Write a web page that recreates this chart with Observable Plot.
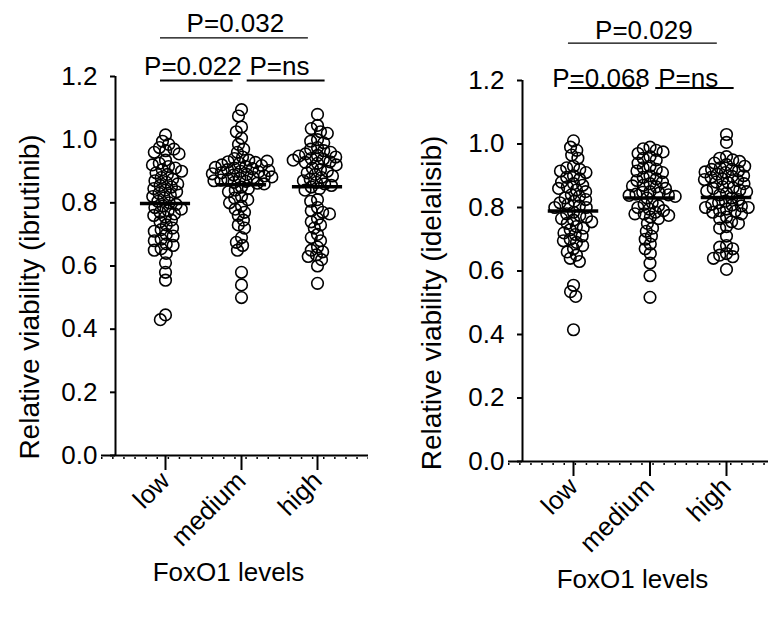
<!DOCTYPE html>
<html><head><meta charset="utf-8">
<script src="https://cdn.jsdelivr.net/npm/d3@7"></script>
<script src="https://cdn.jsdelivr.net/npm/@observablehq/plot@0.6"></script>
<style>
body{margin:0;background:#fff;}
#wrap{display:flex;width:768px;height:628px;overflow:hidden;background:#fff;}
#wrap svg{display:block;flex:none;}
</style></head><body><div id="wrap"></div>
<script>
const categories = ["low", "medium", "high"];
const yTicks = [0, 0.2, 0.4, 0.6, 0.8, 1.0, 1.2];
const xTitle = "FoxO1 levels";

// Relative viability (ibrutinib)
const ibrutinibLow = [1.015, 0.995, 0.985, 0.975, 0.97, 0.965, 0.96, 0.955,
  0.935, 0.925, 0.915, 0.91, 0.905, 0.895, 0.89, 0.92, 0.88, 0.875, 0.90,
  0.87, 0.865, 0.86, 0.855, 0.85, 0.845, 0.84, 0.835, 0.83, 0.825, 0.82, 0.815,
  0.805, 0.80, 0.795, 0.79, 0.785, 0.78, 0.775, 0.77, 0.765, 0.76, 0.755,
  0.745, 0.74, 0.73, 0.72, 0.715, 0.71, 0.70, 0.695,
  0.685, 0.68, 0.67, 0.665, 0.655, 0.65,
  0.64, 0.61, 0.58, 0.555, 0.445, 0.43];
const ibrutinibMedium = [1.095, 1.075, 1.04, 1.025, 1.005, 0.985, 0.97, 0.96, 0.945,
  0.94, 0.935, 0.93, 0.928, 0.925, 0.92, 0.918, 0.915, 0.91, 0.908, 0.905,
  0.90, 0.898, 0.895, 0.89, 0.888, 0.885, 0.88, 0.878, 0.875,
  0.872, 0.87, 0.868, 0.865, 0.862, 0.86, 0.912, 0.902, 0.892, 0.882, 0.932,
  0.85, 0.845, 0.84, 0.835,
  0.82, 0.815, 0.81, 0.80, 0.79, 0.78,
  0.77, 0.76, 0.745, 0.73, 0.72,
  0.69, 0.675, 0.665, 0.65,
  0.58, 0.54, 0.50];
const ibrutinibHigh = [1.08, 1.045, 1.035, 1.025, 1.02, 1.0, 0.995, 0.99,
  0.975, 0.97, 0.965, 0.96, 0.955, 0.95, 0.948, 0.945, 0.94, 0.938, 0.935, 0.93, 0.928, 0.925, 0.92,
  0.91, 0.905, 0.90, 0.895, 0.89, 0.885, 0.88, 0.875, 0.87,
  0.865, 0.86, 0.855, 0.85, 0.845, 0.84,
  0.81, 0.805,
  0.785, 0.775, 0.77, 0.765,
  0.75, 0.74, 0.73, 0.72,
  0.70, 0.69, 0.68,
  0.66, 0.65, 0.645, 0.635, 0.63,
  0.60, 0.62, 0.545];

// Relative viability (idelalisib)
const idelalisibLow = [1.01, 0.99, 0.98, 0.965, 0.955,
  0.93, 0.925, 0.92, 0.915, 0.91,
  0.90, 0.895, 0.89, 0.88, 0.875, 0.87, 0.865, 0.86, 0.855, 0.85,
  0.84, 0.835, 0.83, 0.825, 0.82, 0.815, 0.81, 0.805, 0.80, 0.80,
  0.785, 0.78, 0.775, 0.77, 0.765, 0.76, 0.755, 0.75,
  0.74, 0.735, 0.73, 0.72, 0.715, 0.71, 0.70, 0.695, 0.69,
  0.68, 0.67, 0.66, 0.65, 0.64, 0.63,
  0.555, 0.535, 0.52, 0.415];
const idelalisibMedium = [0.99, 0.985, 0.98, 0.975, 0.97, 0.96,
  0.955, 0.95, 0.94,
  0.93, 0.925, 0.92, 0.915, 0.91,
  0.90, 0.895, 0.89, 0.885, 0.88, 0.875, 0.87, 0.868, 0.865, 0.86,
  0.85, 0.848, 0.845, 0.842, 0.84, 0.838, 0.835, 0.83,
  0.815, 0.81, 0.805, 0.80, 0.795, 0.79, 0.785, 0.78, 0.78, 0.775, 0.77, 0.765,
  0.75, 0.735, 0.725, 0.71,
  0.70, 0.685, 0.67,
  0.655, 0.625, 0.585, 0.517];
const idelalisibHigh = [1.03, 1.005,
  0.96, 0.955, 0.95, 0.945, 0.94, 0.935, 0.93,
  0.925, 0.92, 0.92, 0.915, 0.912, 0.91, 0.905, 0.90, 0.898, 0.895, 0.89, 0.888, 0.885, 0.88, 0.878, 0.875,
  0.865, 0.862, 0.86, 0.855, 0.852, 0.85, 0.845, 0.84,
  0.83, 0.825, 0.82, 0.815, 0.81, 0.808, 0.805, 0.80, 0.80, 0.795, 0.79, 0.788, 0.785, 0.78,
  0.77, 0.765, 0.755, 0.75, 0.74, 0.735,
  0.71,
  0.68, 0.675, 0.67,
  0.655, 0.65, 0.645, 0.64,
  0.605];

// statistical comparisons: [group a, group b]
const comparisons = [[0, 2], [0, 1], [1, 2]];
const ibrutinibP = ["P=0.032", "P=0.022", "P=ns"];
const idelalisibP = ["P=0.029", "P=0.068", "P=ns"];

// ---- layout (not data) ----
const bracketShape = [
  {row: "top", dl: -0.066, dr: -0.12, tx: 0.92},
  {row: "low", dl: -0.066, dr: -0.11, tx: 0.36},
  {row: "low", dl: 0.075, dr: 0.10, tx: 1.5}
];
const FONT = 26;

function makePanel(cfg) {
  const {values, pvals, ylabel, L} = cfg;
  const xpx = d3.scaleLinear([0, 2], [L.x0, L.x2]);
  const frameCenter = (L.ml + L.width - L.mr) / 2;
  const rowY = {top: L.topLine, low: L.lowLine};
  const brackets = comparisons.map(([a, b], k) => ({a, b, label: pvals[k], ...bracketShape[k]}));
  const marks = [];

  // axis lines
  marks.push(Plot.ruleY([0], {stroke: "black", strokeWidth: 2, insetLeft: -L.ext}));
  marks.push(Plot.ruleY([0], {stroke: "black", strokeWidth: 2, dy: 2.5, insetLeft: -L.ext, strokeDasharray: "1.5,9.6"}));
  marks.push(Plot.ruleX([xpx.invert(L.ml)], {stroke: "black", strokeWidth: 2}));
  marks.push(Plot.axisY({ticks: yTicks, tickFormat: d3.format(".1f"), tickSize: 5, tickPadding: 13,
    fontSize: FONT, strokeWidth: 2, label: null}));
  marks.push(Plot.axisX({ticks: [0, 1, 2], tickFormat: (i) => categories[i], tickSize: 15, tickPadding: 6,
    tickRotate: -45, fontSize: FONT, strokeWidth: 2, label: null}));

  // points
  values.forEach((vals, i) => {
    marks.push(Plot.dot(vals.map((v) => ({v})), Plot.dodgeX({anchor: "middle", padding: -4.6},
      {y: "v", r: 5.8, fill: "none", stroke: "black", strokeWidth: 1.6, dx: xpx(i) - frameCenter})));
  });
  // mean lines
  const means = values.map((vals, i) => ({i, m: d3.mean(vals)}));
  marks.push(Plot.ruleY(means, {y: "m", x1: (d) => d.i - 0.33, x2: (d) => d.i + 0.33, stroke: "black", strokeWidth: 3.5}));

  // significance brackets
  marks.push(Plot.ruleY(brackets, {y: (d) => rowY[d.row], x1: (d) => d.a + d.dl, x2: (d) => d.b + d.dr,
    stroke: "black", strokeWidth: (d) => d.row === "top" ? 1.2 : 1.8}));
  marks.push(Plot.text(brackets.filter((d) => d.row === "top"), {x: "tx", y: (d) => rowY[d.row], text: "label",
    dy: L.topDy, fontSize: FONT, fill: "black"}));
  marks.push(Plot.text(brackets.filter((d) => d.row === "low"), {x: "tx", y: (d) => rowY[d.row], text: "label",
    dy: L.lowDy, fontSize: FONT, fill: "black"}));

  // titles
  marks.push(Plot.text([ylabel], {text: (d) => d, frameAnchor: "left", textAnchor: "middle", rotate: -90,
    dx: L.ylx, dy: L.yly, fontSize: 28, fill: "black"}));
  marks.push(Plot.text([xTitle], {text: (d) => d, frameAnchor: "bottom", textAnchor: "middle",
    dx: L.xtx, dy: L.xty, fontSize: FONT, fill: "black"}));

  return Plot.plot({
    width: L.width, height: 628,
    marginLeft: L.ml, marginRight: L.mr, marginTop: L.mt, marginBottom: L.mb,
    style: {fontFamily: "'Liberation Sans', Arial, sans-serif", background: "white", color: "black", overflow: "visible"},
    x: {domain: [0, 2], range: [L.x0, L.x2]},
    y: {domain: [0, 1.2], range: [628 - L.mb, L.mt]},
    marks
  });
}

const wrap = document.getElementById("wrap");
wrap.append(makePanel({
  values: [ibrutinibLow, ibrutinibMedium, ibrutinibHigh],
  pvals: ibrutinibP,
  ylabel: "Relative viability (ibrutinib)",
  L: {width: 384, ml: 115, mr: 16, mt: 76, mb: 173, x0: 165, x2: 317, ext: 14,
      topLine: 1.3226, lowLine: 1.1874, topDy: -14, lowDy: -13.5,
      ylx: -85, yly: 31, xtx: -13.5, xty: 125}
}));
wrap.append(makePanel({
  values: [idelalisibLow, idelalisibMedium, idelalisibHigh],
  pvals: idelalisibP,
  ylabel: "Relative viability (idelalisib)",
  L: {width: 384, ml: 138, mr: 0, mt: 80, mb: 167, x0: 189, x2: 342, ext: 14,
      topLine: 1.3175, lowLine: 1.1764, topDy: -12.7, lowDy: -9,
      ylx: -90, yly: 32, xtx: -13, xty: 126}
}));
</script></body></html>
